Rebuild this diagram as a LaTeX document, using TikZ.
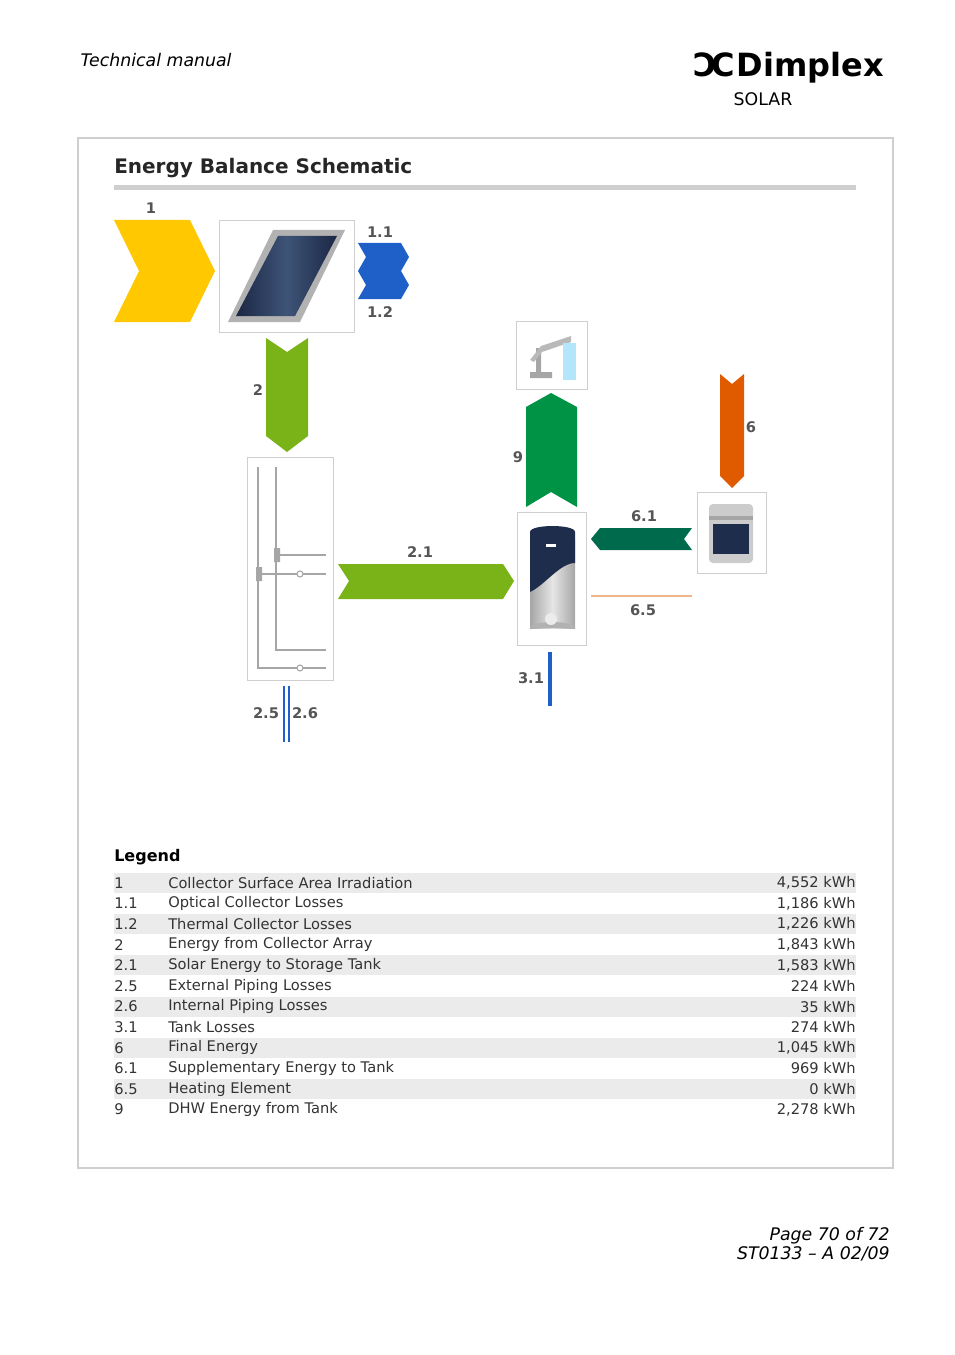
\documentclass[tikz,border=0pt]{standalone}
\usepackage{fontspec}
\setmainfont{DejaVu Sans}
\usetikzlibrary{positioning, calc}
\definecolor{sunyellow}{HTML}{FFC800}
\definecolor{lossblue}{HTML}{1F5FC8}
\definecolor{solargreen}{HTML}{7AB317}
\definecolor{dhwgreen}{HTML}{009245}
\definecolor{suppgreen}{HTML}{006B4C}
\definecolor{finalorange}{HTML}{E05A00}
\definecolor{numgray}{HTML}{555555}
\definecolor{rowgray}{HTML}{EBEBEB}
\definecolor{boxgray}{HTML}{CFCFCF}
\definecolor{panelblue}{HTML}{1C2744}
\definecolor{panelmid}{HTML}{3E5478}
\definecolor{tanknavy}{HTML}{1E2D4C}
\begin{document}
\begin{tikzpicture}
        [
            x=0.75pt, y=-0.75pt,
            num/.style={text=numgray, font=\bfseries\fontsize{11}{13}\selectfont, inner sep=1pt},
            icon/.style={draw=boxgray, line width=0.6pt},
            pipe/.style={draw=gray!70, line width=0.8pt},
            row/.style={anchor=west, font=\fontsize{11}{13}\selectfont, text=black!80, inner sep=0pt}
        ]
        \useasboundingbox (0,0) rectangle (954,1355);
        % header and footer
        \node (manual) [anchor=west, font=\itshape\fontsize{13}{15}\selectfont] at (76,60) {Technical manual};
        \node (logo) [anchor=east, font=\bfseries\fontsize{24}{26}\selectfont, inner sep=0pt] at (884,68) {\char"0186\kern-4pt C\kern1pt Dimplex};
        \node (solar) [font=\fontsize{13}{15}\selectfont] at (763,99) {SOLAR};
        \node (page) [anchor=east, font=\itshape\fontsize{13}{14}\selectfont, align=right, inner sep=0pt] at (890,1244)
            {Page 70 of 72\\ST0133 -- A 02/09};
        % frame and title
        \draw [icon, line width=0.9pt] (78,138) rectangle (893,1168);
        \node (title) [anchor=west, font=\bfseries\fontsize{15}{17}\selectfont, text=black!85, inner sep=0pt] at (114,168) {Energy Balance Schematic};
        \fill [boxgray] (114,185) rectangle (856,190);
        % irradiation and collector
        \fill [sunyellow] (114,220) -- (190,220) -- (215,271) -- (190,322) -- (114,322) -- (139,271) -- cycle;
        \node (n1) [num] at (151,208) {1};
        \draw [icon] (219,220) rectangle (354,332);
        \fill [gray!60] (228,322) -- (300,322) -- (345,230) -- (273,230) -- cycle;
        \shade [left color=panelblue, right color=panelblue, middle color=panelmid] (236,316) -- (295,316) -- (337,236) -- (278,236) -- cycle;
        \foreach \y/\lbl/\ly in {243/1.1/232, 271/1.2/312} {
            \fill [lossblue] (358,\y) -- (401,\y) -- (409,\y+14) -- (401,\y+28) -- (358,\y+28) -- (366,\y+14) -- cycle;
            \node [num] at (380,\ly) {\lbl};
        }
        % collector energy
        \fill [solargreen] (266,338) -- (287,352) -- (308,338) -- (308,436) -- (287,452) -- (266,436) -- cycle;
        \node (n2) [num] at (258,390) {2};
        % piping
        \draw [icon] (247,457) rectangle (333,680);
        \draw [pipe] (276,467) -- (276,650) -- (326,650);
        \draw [pipe] (258,467) -- (258,668) -- (326,668);
        \draw [pipe] (276,555) -- (326,555);
        \draw [pipe] (258,574) -- (326,574);
        \foreach \y in {574,668}
            \draw [pipe, fill=white] (300,\y) circle (3);
        \fill [gray!70] (274,548) rectangle (280,562) (256,567) rectangle (262,581);
        \fill [solargreen] (338,564) -- (503,564) -- (514,581) -- (503,599) -- (338,599) -- (349,581) -- cycle;
        \node (n21) [num] at (420,552) {2.1};
        \draw [lossblue, line width=2.2pt] (284,686) -- (284,742);
        \draw [lossblue, line width=2.2pt] (289,686) -- (289,742);
        \node (n25) [num] at (266,713) {2.5};
        \node (n26) [num] at (305,713) {2.6};
        % storage tank
        \draw [icon] (517,512) rectangle (586,645);
        \shade [left color=gray!70, right color=gray!70, middle color=gray!20] (530,540) rectangle (575,628);
        \fill [gray!60] (530,628) arc (180:360:22.5 and 6);
        \fill [tanknavy] (530,532) .. controls (530,524) and (575,524) .. (575,532) -- (575,563)
            .. controls (560,563) and (545,585) .. (530,592) -- cycle;
        \fill [white!85!gray] (551,619) circle (6);
        \fill [white] (546,544) rectangle (556,547);
        \draw [lossblue, line width=3pt] (550,652) -- (550,706);
        \node (n31) [num] at (531,678) {3.1};
        % hot water
        \draw [icon] (516,321) rectangle (587,389);
        \fill [gray!70] (530,378) rectangle (552,372) (536,372) rectangle (541,348);
        \fill [gray!55] (530,360) -- (541,346) -- (571,336) -- (571,342) -- (542,352) -- (534,362) -- cycle;
        \fill [cyan!30] (563,343) rectangle (576,380);
        \fill [dhwgreen] (526,507) -- (551,492) -- (577,507) -- (577,407) -- (551,393) -- (526,407) -- cycle;
        \node (n9) [num] at (518,457) {9};
        % boiler
        \draw [icon] (697,492) rectangle (766,573);
        \fill [gray!40, rounded corners=3pt] (709,504) rectangle (753,563);
        \fill [gray!70] (709,516) rectangle (753,520);
        \fill [tanknavy] (713,524) rectangle (749,554);
        \fill [finalorange] (720,374) -- (732,384) -- (744,374) -- (744,476) -- (732,488) -- (720,476) -- cycle;
        \node (n6) [num] at (751,427) {6};
        \fill [suppgreen] (591,539) -- (600,528) -- (692,528) -- (684,539) -- (692,550) -- (600,550) -- cycle;
        \node (n61) [num] at (644,516) {6.1};
        \draw [finalorange!45, line width=0.8pt] (591,596) -- (692,596);
        \node (n65) [num] at (643,610) {6.5};
        % legend
        \node (legend) [anchor=west, font=\bfseries\fontsize{12}{14}\selectfont, inner sep=0pt] at (114,857) {Legend};
        \foreach \k/\code/\txt/\val [count=\i from 0] in {
            1/1/Collector Surface Area Irradiation/{4,552},
            2/1.1/Optical Collector Losses/{1,186},
            3/1.2/Thermal Collector Losses/{1,226},
            4/2/Energy from Collector Array/{1,843},
            5/2.1/Solar Energy to Storage Tank/{1,583},
            6/2.5/External Piping Losses/224,
            7/2.6/Internal Piping Losses/35,
            8/3.1/Tank Losses/274,
            9/6/Final Energy/{1,045},
            10/6.1/Supplementary Energy to Tank/969,
            11/6.5/Heating Element/0,
            12/9/DHW Energy from Tank/{2,278}} {
            \pgfmathsetmacro{\ry}{883+20.6*\i}
            \ifodd\k \fill [rowgray] (114,\ry-10) rectangle (856,\ry+10); \fi
            \node [row] at (114,\ry) {\code};
            \node [row] at (168,\ry) {\txt};
            \node [row, anchor=east] at (856,\ry) {\val{} kWh};
        }
\end{tikzpicture}
\end{document}
